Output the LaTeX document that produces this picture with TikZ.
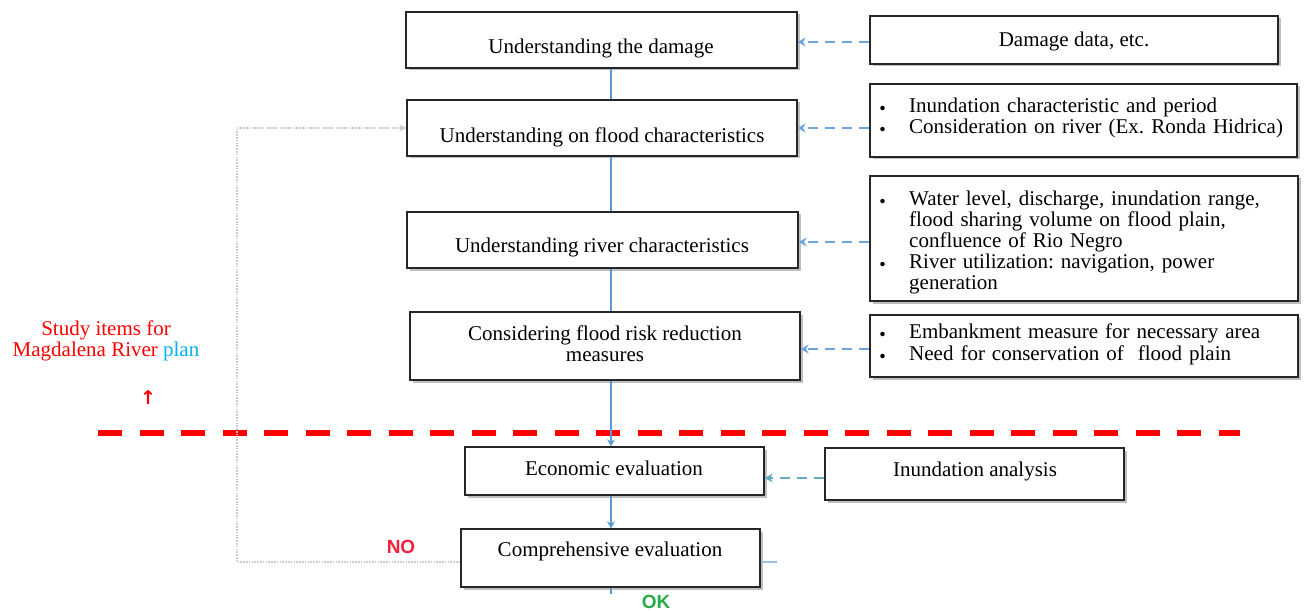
\documentclass[tikz,border=0pt]{standalone}
\usepackage{fontspec}
\setmainfont{Liberation Serif}
\newfontfamily\cjkfont{Noto Sans CJK JP}
\newfontfamily\labelsans{Liberation Sans}
\newfontfamily\symbfont{DejaVu Sans}
\usetikzlibrary{arrows.meta,shadows,calc}
\frenchspacing

\definecolor{flowblue}{RGB}{91,155,213}
\definecolor{feedblue}{RGB}{110,165,222}
\definecolor{feedteal}{RGB}{105,170,195}
\definecolor{loopgray}{RGB}{200,204,210}
\definecolor{divred}{RGB}{255,0,0}
\definecolor{planblue}{RGB}{0,176,240}
\definecolor{nored}{RGB}{250,30,60}
\definecolor{okgreen}{RGB}{40,170,70}

% bullet item and continuation indent for the side notes
\newcommand{\bitem}{\makebox[37pt][l]{\raisebox{-4pt}{\cjkfont ・}}}
\newcommand{\bcont}{\hspace*{37pt}}

\begin{document}
\begin{tikzpicture}[x=1pt,y=-1pt,
  box/.style={draw=black!85, line width=1.3pt, fill=white, rectangle, inner sep=0pt,
    drop shadow={shadow xshift=2.5pt, shadow yshift=-2.5pt, fill=black!45, opacity=.55}},
  txt/.style={inner sep=0pt, font=\fontsize{21}{21}\selectfont, anchor=mid},
  notes/.style={inner sep=0pt, font=\fontsize{21}{21}\selectfont, anchor=mid west,
    text width=425pt, align=left},
  spineline/.style={draw=flowblue, line width=2pt},
  spinearrow/.style={spineline, -{Stealth[length=7pt,width=8pt]}},
  feed/.style={draw=feedblue, line width=2.3pt, dash pattern=on 10pt off 7pt,
    -{Stealth[length=8pt,width=9pt]}},
  loopline/.style={draw=loopgray, line width=1.8pt, dash pattern=on 1.6pt off 1.2pt},
]
\useasboundingbox[fill=white] (0,0) rectangle (1305,612);

% main study steps
\node[box, minimum width=391pt, minimum height=56pt] (b1) at (601.5,40) {};
\node[box, minimum width=390pt, minimum height=56pt] (b2) at (602,128) {};
\node[box, minimum width=391pt, minimum height=56pt] (b3) at (602.5,240) {};
\node[box, minimum width=390pt, minimum height=68pt] (b4) at (605,346) {};
\node[box, minimum width=299pt, minimum height=48pt] (b5) at (614.5,471) {};
\node[box, minimum width=299pt, minimum height=58pt] (b6) at (610.5,558) {};

\node[txt] (t1) at (601,51) {Understanding the damage};
\node[txt] (t2) at (602,140) {Understanding on flood characteristics};
\node[txt] (t3) at (602,250) {Understanding river characteristics};
\node[txt, align=center, anchor=center] (t4) at (605,344) {Considering flood risk reduction\\measures};
\node[txt] (t5) at (614,473) {Economic evaluation};
\node[txt] (t6) at (610,554) {Comprehensive evaluation};

% inputs on the right
\node[box, minimum width=408pt, minimum height=48pt] (r1) at (1074,40) {};
\node[box, minimum width=427pt, minimum height=73pt] (r2) at (1083.5,120.5) {};
\node[box, minimum width=428pt, minimum height=125pt] (r3) at (1084,238.5) {};
\node[box, minimum width=428pt, minimum height=62pt] (r4) at (1084,346) {};
\node[box, minimum width=299pt, minimum height=52pt] (r5) at (974.5,474) {};

\node[txt] (s1) at (1074,44) {Damage data, etc.};
\node[notes] (s2) at (872,110) {\bitem Inundation characteristic and period\\
  \bitem Consideration on river (Ex. Ronda Hidrica)};
\node[notes] (s3) at (872,203) {\bitem Water level, discharge, inundation range,\\
  \bcont flood sharing volume on flood plain,\\
  \bcont confluence of Rio Negro\\
  \bitem River utilization: navigation, power\\
  \bcont generation};
\node[notes, font=\fontsize{21}{22}\selectfont] (s4) at (872,336) {\bitem Embankment measure for necessary area\\
  \bitem Need for conservation of\ \ flood plain};
\node[txt] (s5) at (975,474) {Inundation analysis};

% scope label and divider
\node[txt, align=center, anchor=center, text=divred] (scope) at (106,341)
  {Study items for\\Magdalena River \textcolor{planblue}{plan}};
\node[inner sep=0pt, text=divred, font=\symbfont\bfseries\fontsize{19}{19}\selectfont] (uparrow) at (148,398) {↑};
\coordinate (divL) at (98,433);
\coordinate (divR) at (1240,433);
\draw[draw=divred, line width=6pt, dash pattern=on 24pt off 17.5pt] (divL) -- (divR);

% decision labels
\node[inner sep=0pt, text=nored, font=\labelsans\bfseries\fontsize{19}{19}\selectfont, anchor=mid] (no) at (401,551) {NO};
\node[inner sep=0pt, text=okgreen, font=\labelsans\bfseries\fontsize{19}{19}\selectfont, anchor=mid] (ok) at (656,606) {OK};

% main flow
\coordinate (spine) at (611,0);
\coordinate (okend) at (611,594);
\draw[spineline] (b1.south -| spine) -- (b2.north -| spine);
\draw[spineline] (b2.south -| spine) -- (b3.north -| spine);
\draw[spineline] (b3.south -| spine) -- (b4.north -| spine);
\draw[spinearrow] (b4.south -| spine) -- (b5.north -| spine);
\draw[spinearrow] (b5.south -| spine) -- (b6.north -| spine);
\draw[spineline] (b6.south -| spine) -- (okend);

% feedback loop when the evaluation fails
\coordinate (loopc) at (237,562);
\coordinate (tickend) at (777,562);
\draw[loopline, -{Stealth[length=7pt,width=7pt]}] (b6.west |- loopc) -- (loopc) |- (b2.west);
\draw[draw=feedblue!70, line width=1.5pt] (b6.east |- loopc) -- (tickend);

% inputs feeding the steps
\draw[feed] (r1.west |- 0,42) -- (b1.east |- 0,42);
\draw[feed] (r2.west |- 0,128) -- (b2.east |- 0,128);
\draw[feed] (r3.west |- 0,242) -- (b3.east |- 0,242);
\draw[feed] (r4.west |- 0,349) -- (b4.east |- 0,349);
\draw[feed, draw=feedteal] (r5.west |- 0,478) -- (b5.east |- 0,478);
\end{tikzpicture}
\end{document}
